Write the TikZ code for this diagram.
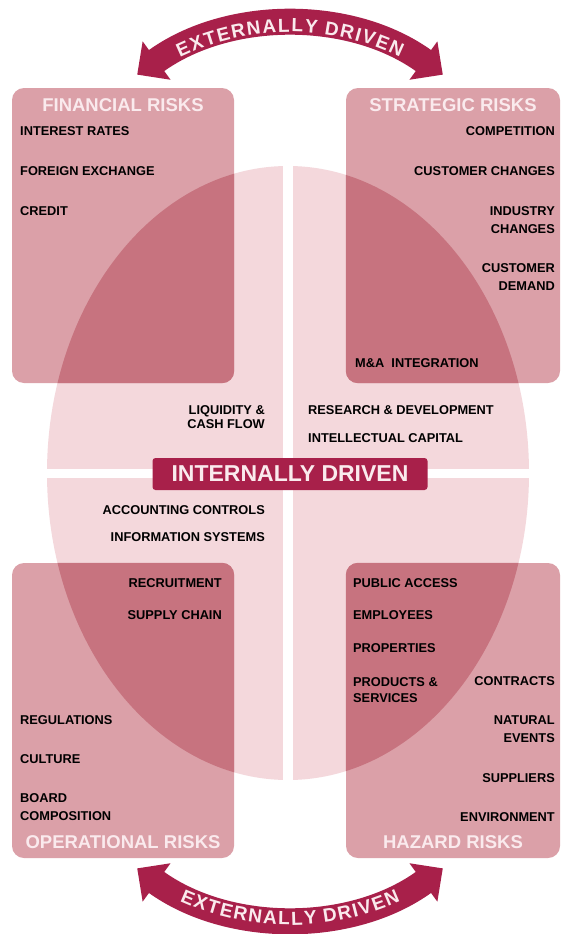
\documentclass[tikz,border=0pt]{standalone}
\usepackage{fontspec}
\setsansfont{Liberation Sans}
\usetikzlibrary{positioning,arrows.meta,decorations.text,calc}

\definecolor{boxpink}{RGB}{219,160,168}
\definecolor{darkpink}{RGB}{199,115,127}
\definecolor{lightpink}{RGB}{244,216,220}
\definecolor{crimson}{RGB}{168,32,74}
\definecolor{titlepink}{RGB}{250,234,237}
\newcommand{\arcfont}{\sffamily\bfseries\fontsize{19}{19}\selectfont}
\newcommand{\arctext}{{E\kern1.6pt}{X\kern1.6pt}{T\kern1.6pt}{E\kern1.6pt}{R\kern1.6pt}{N\kern1.6pt}{A\kern1.6pt}{L\kern1.6pt}{L\kern1.6pt}{Y\kern1.6pt} {D\kern1.6pt}{R\kern1.6pt}{I\kern1.6pt}{V\kern1.6pt}{E\kern1.6pt}N}

\begin{document}
\begin{tikzpicture}[x=1pt,y=1pt,
  box/.style={rounded corners=12pt,fill=boxpink,minimum width=222pt,minimum height=295pt,inner sep=0pt},
  item/.style={font=\sffamily\bfseries\fontsize{12.8}{18}\selectfont,inner sep=0pt},
  title/.style={font=\sffamily\bfseries\fontsize{18.5}{20}\selectfont,text=titlepink,inner sep=0pt},
  band/.style={line width=26pt,draw=crimson,{Triangle[width=46pt,length=24pt]}-{Triangle[width=46pt,length=24pt]}}]

  \fill[white] (0,0) rectangle (565,-934);
  \useasboundingbox (0,0) rectangle (565,-934);

  % the oval behind the four boxes
  \coordinate (ctr) at (288,-473);
  \fill[lightpink] (ctr) ellipse [x radius=241, y radius=307];
  \fill[white] (283,-160) rectangle (293,-790);
  \fill[white] (40,-469) rectangle (540,-478);

  \node[box] (fin) at (123,-235.5) {};
  \node[box,minimum width=214pt] (str) at (453,-235.5) {};
  \node[box] (ops) at (123,-710.5) {};
  \node[box,minimum width=214pt] (haz) at (453,-710.5) {};

  \begin{scope}
    \clip[rounded corners=12pt] (fin.south west) rectangle (fin.north east)
      (str.south west) rectangle (str.north east)
      (ops.south west) rectangle (ops.north east)
      (haz.south west) rectangle (haz.north east);
    \fill[darkpink] (ctr) ellipse [x radius=241, y radius=307];
  \end{scope}

  \node[title] (fintitle) at ([yshift=-17]fin.north) {FINANCIAL RISKS};
  \node[title] (strtitle) at ([yshift=-17]str.north) {STRATEGIC RISKS};
  \node[title] (opstitle) at ([yshift=16]ops.south) {OPERATIONAL RISKS};
  \node[title] (haztitle) at ([yshift=16]haz.south) {HAZARD RISKS};

  % financial
  \node[item,anchor=west] (rates) at (20,-131) {INTEREST RATES};
  \node[item,below=40pt of rates.west,anchor=west] (fx) {FOREIGN EXCHANGE};
  \node[item,below=40pt of fx.west,anchor=west] (credit) {CREDIT};

  % strategic
  \node[item,anchor=east] (comp) at (555,-131) {COMPETITION};
  \node[item,below=40pt of comp.east,anchor=east] (custch) {CUSTOMER CHANGES};
  \node[item,align=right,anchor=north east] (indus) at (555,-206.4) {INDUSTRY\\CHANGES};
  \node[item,align=right,anchor=north east] (demand) at (555,-263.4) {CUSTOMER\\DEMAND};
  \node[item,anchor=west] (merger) at (355,-363) {M\&A\ \ INTEGRATION};

  % internal
  \node[item,align=right,anchor=north east] (liq) at (265,-405.4) {LIQUIDITY \&\\[-4pt]CASH FLOW};
  \node[item,anchor=west] (rnd) at (308,-410) {RESEARCH \& DEVELOPMENT};
  \node[item,below=28pt of rnd.west,anchor=west] (intcap) {INTELLECTUAL CAPITAL};
  \node[item,anchor=east] (acct) at (265,-510) {ACCOUNTING CONTROLS};
  \node[item,below=27pt of acct.east,anchor=east] (infosys) {INFORMATION SYSTEMS};

  % operational
  \node[item,anchor=east] (recruit) at (222,-583) {RECRUITMENT};
  \node[item,below=32pt of recruit.east,anchor=east] (supply) {SUPPLY CHAIN};
  \node[item,anchor=west] (regs) at (20,-720) {REGULATIONS};
  \node[item,below=39pt of regs.west,anchor=west] (culture) {CULTURE};
  \node[item,align=left,anchor=north west] (board) at (20,-793.4) {BOARD\\COMPOSITION};

  % hazard
  \node[item,anchor=west] (public) at (353,-583) {PUBLIC ACCESS};
  \node[item,below=32pt of public.west,anchor=west] (staff) {EMPLOYEES};
  \node[item,below=33pt of staff.west,anchor=west] (props) {PROPERTIES};
  \node[item,align=left,anchor=north west] (prods) at (353,-677.4) {PRODUCTS \&\\[-2pt]SERVICES};
  \node[item,anchor=east] (contracts) at (555,-681) {CONTRACTS};
  \node[item,align=right,anchor=north east] (natural) at (555,-715.4) {NATURAL\\EVENTS};
  \node[item,anchor=east] (suppliers) at (555,-778) {SUPPLIERS};
  \node[item,below=39pt of suppliers.east,anchor=east] (environ) {ENVIRONMENT};

  \node[fill=crimson,rounded corners=3pt,minimum width=275pt,minimum height=32pt,inner sep=0pt,
    text=titlepink,font=\sffamily\bfseries\fontsize{23}{23}\selectfont] (intl) at (290,-474) {INTERNALLY DRIVEN};

  % the two outer arrows
  \coordinate (topc) at (290,-285);
  \coordinate (botc) at (290,-658);
  \draw[band] ($(topc)+(126:260)$) arc[start angle=126, end angle=54, radius=260];
  \path[decorate,decoration={text along path,text align=center,text color=titlepink,
    text={|\arcfont|\arctext}}]
    ($(topc)+(126:253)$) arc[start angle=126, end angle=54, radius=253];
  \draw[band] ($(botc)+(234:260)$) arc[start angle=234, end angle=306, radius=260];
  \path[decorate,decoration={text along path,text align=center,text color=titlepink,
    text={|\arcfont|\arctext}}]
    ($(botc)+(234:267)$) arc[start angle=234, end angle=306, radius=267];
\end{tikzpicture}
\end{document}
